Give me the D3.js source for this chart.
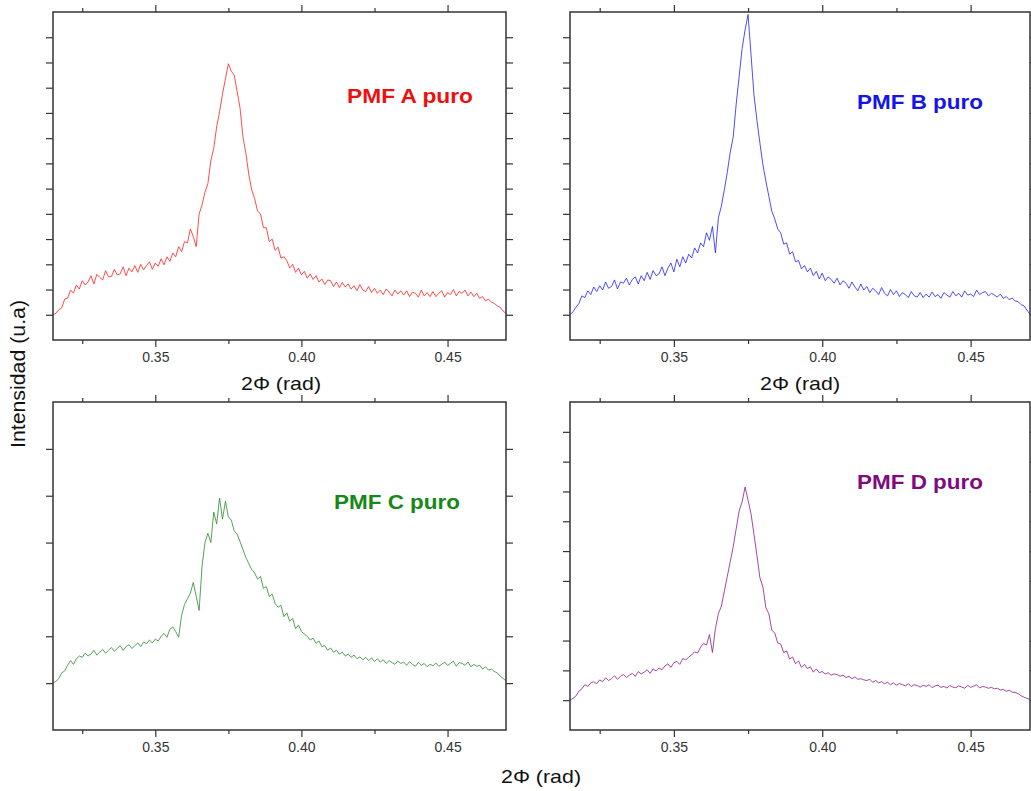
<!DOCTYPE html>
<html><head><meta charset="utf-8">
<script src="https://cdn.jsdelivr.net/npm/d3@7"></script>
<style>body{margin:0;background:#fff}</style>
</head><body><svg id="chart" width="1031" height="791"></svg>
<script>
// ---- data ----
const twoTheta = [
0.315,0.316,0.317,0.318,0.319,0.320,0.321,0.322,0.323,0.324,
0.325,0.326,0.327,0.328,0.329,0.330,0.331,0.332,0.333,0.334,
0.335,0.336,0.337,0.338,0.339,0.340,0.341,0.342,0.343,0.344,
0.345,0.346,0.347,0.348,0.349,0.350,0.351,0.352,0.353,0.354,
0.355,0.356,0.357,0.358,0.359,0.360,0.361,0.362,0.363,0.364,
0.365,0.366,0.367,0.368,0.369,0.370,0.371,0.372,0.373,0.374,
0.375,0.376,0.377,0.378,0.379,0.380,0.381,0.382,0.383,0.384,
0.385,0.386,0.387,0.388,0.389,0.390,0.391,0.392,0.393,0.394,
0.395,0.396,0.397,0.398,0.399,0.400,0.401,0.402,0.403,0.404,
0.405,0.406,0.407,0.408,0.409,0.410,0.411,0.412,0.413,0.414,
0.415,0.416,0.417,0.418,0.419,0.420,0.421,0.422,0.423,0.424,
0.425,0.426,0.427,0.428,0.429,0.430,0.431,0.432,0.433,0.434,
0.435,0.436,0.437,0.438,0.439,0.440,0.441,0.442,0.443,0.444,
0.445,0.446,0.447,0.448,0.449,0.450,0.451,0.452,0.453,0.454,
0.455,0.456,0.457,0.458,0.459,0.460,0.461,0.462,0.463,0.464,
0.465,0.466,0.467,0.468,0.469,0.470];

const pmfA = [
1.00,1.06,1.20,1.28,1.62,1.66,1.98,1.86,2.18,2.02,
2.35,2.18,2.30,2.55,2.22,2.60,2.48,2.38,2.75,2.50,
2.52,2.80,2.58,2.62,2.90,2.55,2.85,2.70,2.95,2.68,
3.00,2.78,2.95,3.10,2.80,3.05,2.92,3.22,2.98,3.30,
3.12,3.45,3.30,3.70,3.50,3.90,3.85,4.40,4.10,3.70,
5.00,5.35,5.85,6.20,7.10,7.60,8.45,9.05,9.75,10.35,
10.95,10.65,10.50,9.85,9.20,8.05,7.40,6.55,5.95,5.60,
5.10,5.00,4.45,4.45,3.90,4.00,3.55,3.68,3.25,3.30,
3.15,2.85,3.00,2.68,2.85,2.58,2.72,2.45,2.62,2.40,
2.55,2.30,2.42,2.20,2.38,2.35,2.12,2.30,2.08,2.28,
2.10,2.22,2.02,2.15,1.95,2.20,1.98,1.92,2.12,1.88,
2.05,1.85,1.98,1.80,2.02,1.90,1.75,1.98,1.82,1.95,
1.78,1.95,1.72,1.90,1.85,1.70,1.98,1.75,1.88,1.72,
1.92,1.72,1.85,1.95,1.70,1.88,1.80,2.00,1.75,1.92,
1.85,1.98,1.75,1.90,1.72,1.85,1.65,1.72,1.55,1.62,
1.50,1.45,1.35,1.30,1.15,1.05];

const pmfB = [
1.00,1.12,1.30,1.45,1.75,1.68,1.95,1.80,2.10,1.92,
2.15,1.98,2.30,2.05,2.12,2.38,2.02,2.30,2.25,2.45,
2.18,2.40,2.50,2.22,2.55,2.35,2.68,2.40,2.75,2.55,
2.62,2.90,2.55,2.85,3.05,2.70,3.20,2.90,3.30,3.05,
3.40,3.25,3.65,3.45,3.85,3.70,4.25,3.95,4.50,3.45,
4.85,5.30,5.95,6.65,7.45,8.05,9.35,10.45,11.55,12.30,
12.90,11.30,9.70,8.70,7.80,6.95,6.30,5.70,5.10,4.80,
4.40,4.25,3.80,3.85,3.40,3.50,3.10,3.15,2.82,2.95,
2.70,2.85,2.55,2.72,2.42,2.65,2.35,2.50,2.40,2.25,
2.45,2.18,2.35,2.25,2.05,2.30,2.10,1.95,2.22,1.98,
2.12,1.88,2.05,1.95,1.80,2.08,1.85,1.75,2.00,1.80,
1.95,1.72,1.88,1.80,1.68,1.92,1.75,1.70,1.88,1.68,
1.82,1.70,1.90,1.72,1.80,1.65,1.88,1.78,1.70,1.92,
1.75,1.85,1.70,1.95,1.78,1.82,1.72,1.98,1.80,1.88,
1.92,1.75,1.85,1.78,1.70,1.82,1.65,1.72,1.60,1.66,
1.55,1.52,1.40,1.35,1.18,1.02];

const pmfC = [
1.00,1.04,1.10,1.22,1.26,1.38,1.48,1.40,1.52,1.58,
1.55,1.64,1.58,1.62,1.70,1.60,1.66,1.72,1.64,1.70,
1.76,1.68,1.74,1.80,1.70,1.78,1.82,1.74,1.80,1.86,
1.78,1.88,1.84,1.92,1.86,1.94,1.90,2.00,2.06,1.98,
2.15,2.20,2.10,1.98,2.45,2.68,2.80,2.92,3.15,2.85,
2.55,3.50,4.00,4.20,4.00,4.65,4.40,4.95,4.50,4.88,
4.55,4.48,4.25,4.18,4.02,3.85,3.68,3.55,3.42,3.35,
3.22,3.28,3.02,3.06,2.85,2.90,2.70,2.62,2.66,2.42,
2.50,2.32,2.38,2.16,2.24,2.10,2.05,2.00,1.92,1.96,
1.85,1.90,1.78,1.80,1.70,1.75,1.66,1.70,1.62,1.66,
1.58,1.62,1.55,1.60,1.52,1.56,1.50,1.55,1.48,1.54,
1.46,1.52,1.45,1.50,1.42,1.48,1.44,1.40,1.47,1.42,
1.45,1.38,1.46,1.40,1.36,1.44,1.38,1.42,1.35,1.40,
1.37,1.43,1.36,1.40,1.45,1.38,1.42,1.47,1.36,1.44,
1.42,1.38,1.45,1.35,1.40,1.36,1.38,1.30,1.35,1.28,
1.30,1.25,1.22,1.15,1.10,1.05];

const pmfD = [
1.00,1.06,1.14,1.30,1.38,1.52,1.46,1.58,1.62,1.55,
1.68,1.62,1.75,1.66,1.72,1.82,1.70,1.80,1.86,1.76,
1.84,1.90,1.80,1.96,1.88,1.94,2.02,1.90,2.05,1.98,
2.08,2.02,2.15,2.22,2.10,2.26,2.30,2.20,2.40,2.35,
2.45,2.52,2.62,2.58,2.78,2.90,2.85,3.20,2.60,3.40,
3.90,4.15,4.65,5.15,5.65,6.15,6.75,7.35,7.65,8.15,
7.70,7.25,6.55,5.85,5.10,4.80,4.10,3.90,3.35,3.25,
2.92,2.88,2.60,2.65,2.38,2.45,2.22,2.32,2.10,2.20,
2.06,2.12,1.94,2.05,1.92,1.96,1.88,1.92,1.84,1.88,
1.86,1.80,1.84,1.76,1.80,1.72,1.78,1.70,1.72,1.68,
1.66,1.70,1.60,1.66,1.58,1.62,1.55,1.60,1.52,1.58,
1.50,1.56,1.52,1.48,1.55,1.46,1.52,1.49,1.44,1.50,
1.46,1.52,1.42,1.48,1.50,1.43,1.46,1.41,1.49,1.44,
1.42,1.48,1.44,1.40,1.50,1.43,1.47,1.52,1.41,1.46,
1.44,1.40,1.43,1.38,1.40,1.34,1.36,1.30,1.33,1.27,
1.26,1.22,1.15,1.10,1.06,1.02];

const xDomain = [0.315, 0.470];
const xMajorTicks = [0.35, 0.40, 0.45];
const xMinorTicks = [0.325, 0.375, 0.425];
const yTicksAB = [1,2,3,4,5,6,7,8,9,10,11,12];
const yTicksC = [1,2,3,4,5,6];
const yTicksD = [1,2,3,4,5,6,7,8,9,10];
const yMaxAB = 13, yMaxC = 7, yMaxD = 11;
const panelNames = ["PMF A puro", "PMF B puro", "PMF C puro", "PMF D puro"];
const xTitle = "2\u03A6 (rad)";
const yTitle = "Intensidad (u.a)";

// ---- rendering ----
const svg = d3.select("#chart");
const FONT = "'Liberation Sans', Arial, Helvetica, sans-serif";
const AX = "#333";

const panels = [
  {data: pmfA, yMax: yMaxAB, yTicks: yTicksAB, name: panelNames[0], line: "#ff1f1f", txt: "#ee1010",
   box: [53, 506, 12, 340], lab: [347, 103], title: [281, 390]},
  {data: pmfB, yMax: yMaxAB, yTicks: yTicksAB, name: panelNames[1], line: "#2020ff", txt: "#1515e6",
   box: [570, 1030, 12, 340], lab: [857, 109], title: [800, 390]},
  {data: pmfC, yMax: yMaxC, yTicks: yTicksC, name: panelNames[2], line: "#2a8a2a", txt: "#168816",
   box: [53, 506, 402, 730], lab: [334, 509], title: null},
  {data: pmfD, yMax: yMaxD, yTicks: yTicksD, name: panelNames[3], line: "#8a1a8a", txt: "#800a80",
   box: [570, 1030, 402, 730], lab: [857, 489], title: null}
];

function styleAxis(g) {
  g.select(".domain").remove();
  g.selectAll("line").attr("stroke", AX).attr("stroke-width", 1.2);
  g.selectAll("text").attr("fill", AX).style("font-family", FONT).style("font-size", "14px");
}

panels.forEach(p => {
  const [x0, x1, y0, y1] = p.box;
  const x = d3.scaleLinear().domain(xDomain).range([x0, x1]);
  const y = d3.scaleLinear().domain([0, p.yMax]).range([y1, y0]);
  const g = svg.append("g");

  g.append("g").attr("transform", `translate(0,${y1})`)
    .call(d3.axisBottom(x).tickValues(xMajorTicks).tickSize(7).tickPadding(5).tickFormat(d3.format(".2f")))
    .call(styleAxis);
  g.append("g").attr("transform", `translate(0,${y1})`)
    .call(d3.axisBottom(x).tickValues(xMinorTicks).tickSize(4).tickFormat(""))
    .call(styleAxis);
  g.append("g").attr("transform", `translate(0,${y0})`)
    .call(d3.axisTop(x).tickValues(xMajorTicks).tickSize(7).tickFormat(""))
    .call(styleAxis);
  g.append("g").attr("transform", `translate(0,${y0})`)
    .call(d3.axisTop(x).tickValues(xMinorTicks).tickSize(4).tickFormat(""))
    .call(styleAxis);
  g.append("g").attr("transform", `translate(${x0},0)`)
    .call(d3.axisLeft(y).tickValues(p.yTicks).tickSize(7).tickFormat(""))
    .call(styleAxis);
  g.append("g").attr("transform", `translate(${x1},0)`)
    .call(d3.axisRight(y).tickValues(p.yTicks).tickSize(7).tickFormat(""))
    .call(styleAxis);

  const pts = twoTheta.map((t, i) => [t, p.data[i]]);
  g.append("path").datum(pts)
    .attr("fill", "none").attr("stroke", p.line).attr("stroke-width", 0.8)
    .attr("stroke-linejoin", "round")
    .attr("d", d3.line().x(d => x(d[0])).y(d => y(d[1])));

  g.append("rect").attr("x", x0).attr("y", y0).attr("width", x1 - x0).attr("height", y1 - y0)
    .attr("fill", "none").attr("stroke", AX).attr("stroke-width", 1.5);

  g.append("text").attr("x", p.lab[0]).attr("y", p.lab[1])
    .attr("fill", p.txt).style("font-family", FONT).style("font-weight", "bold").style("font-size", "20px")
    .attr("textLength", 126).attr("lengthAdjust", "spacingAndGlyphs")
    .text(p.name);

  if (p.title) {
    g.append("text").attr("x", p.title[0]).attr("y", p.title[1]).attr("text-anchor", "middle")
      .attr("fill", "#111").style("font-family", FONT).style("font-size", "19px")
      .attr("textLength", 80).attr("lengthAdjust", "spacingAndGlyphs")
      .text(xTitle);
  }
});

svg.append("text").attr("x", 541).attr("y", 783).attr("text-anchor", "middle")
  .attr("fill", "#111").style("font-family", FONT).style("font-size", "19px")
  .attr("textLength", 80).attr("lengthAdjust", "spacingAndGlyphs")
  .text(xTitle);

svg.append("text").attr("transform", "translate(25,374) rotate(-90)").attr("text-anchor", "middle")
  .attr("fill", "#111").style("font-family", FONT).style("font-size", "20px")
  .attr("textLength", 148).attr("lengthAdjust", "spacingAndGlyphs")
  .text(yTitle);
</script>
</body></html>
